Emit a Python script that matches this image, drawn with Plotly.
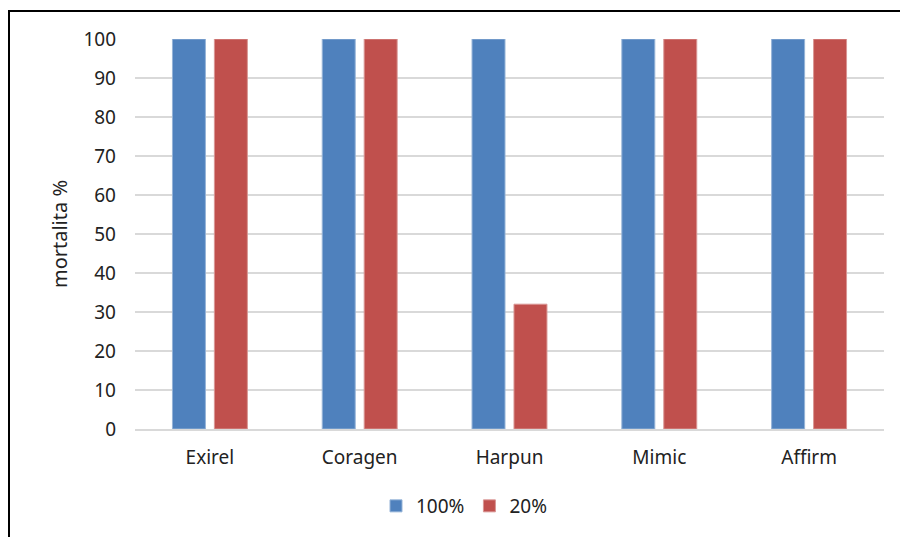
import plotly.graph_objects as go

categories = ["Exirel", "Coragen", "Harpun", "Mimic", "Affirm"]
series_names = ["100%", "20%"]
values_100 = [100, 100, 100, 100, 100]
values_20 = [100, 100, 32, 100, 100]
colors = ["#4F81BD", "#C0504D"]
edge_colors = ["#95B3D7", "#D99694"]

font_family = "Noto Sans, Open Sans, sans-serif"

fig = go.Figure()
for name, vals, c, e in zip(series_names, [values_100, values_20], colors, edge_colors):
    fig.add_trace(go.Bar(x=categories, y=vals, name=name,
                         marker=dict(color=c, line=dict(color=e, width=1))))

# page body has an 8px margin, so figure coords = screen coords - 8
OFF = 8
W, H = 908, 537
L, R, T, B = 135 - OFF, W - (884 - OFF), 39 - OFF, H - (429 - OFF)
pw, ph = W - L - R, H - T - B

def px(x):
    return (x - OFF - L) / pw

def py(y):
    return (H - B - (y - OFF)) / ph

fig.update_layout(
    width=W, height=H,
    margin=dict(l=L, r=R, t=T, b=B),
    paper_bgcolor="white", plot_bgcolor="white",
    barmode="group", bargap=0.44, bargroupgap=0.214,
    font=dict(family=font_family, size=19, color="#222222"),
    showlegend=True,
    legend=dict(orientation="h", x=px(464), xanchor="center", y=py(506), yanchor="middle",
                font=dict(size=19), traceorder="normal"),
    xaxis=dict(showgrid=False, showline=True, linecolor="#D9D9D9", linewidth=2,
               ticks="", tickfont=dict(size=19), ticklabelstandoff=10),
    yaxis=dict(range=[0, 100], dtick=10, showgrid=True, gridcolor="#D9D9D9", gridwidth=2,
               zeroline=False, ticks="", ticklabelstandoff=18, tickfont=dict(size=19),
               title=dict(text="mortalita %", font=dict(size=20), standoff=10)),
    shapes=[
        dict(type="line", xref="paper", yref="paper", x0=px(8), x1=px(W + 20), y0=py(11), y1=py(11),
             line=dict(color="black", width=2)),
        dict(type="line", xref="paper", yref="paper", x0=px(9), x1=px(9), y0=py(11), y1=py(H + 20),
             line=dict(color="black", width=2)),
    ],
)

fig.write_html("out.html")
